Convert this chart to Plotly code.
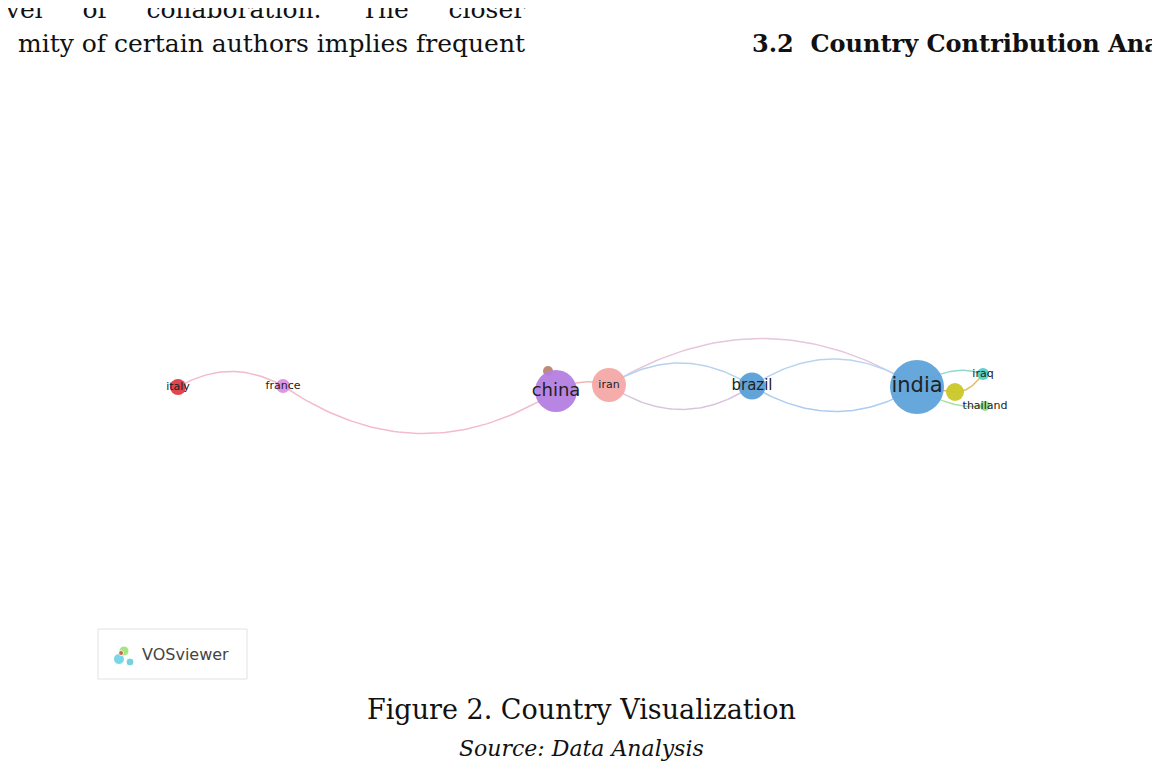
import numpy as np
import plotly.graph_objects as go

# Node data (layout positions)
labels = ["italy", "france", "", "china", "iran", "brazil", "india", "iraq", "", "thailand"]
node_x = [178, 283, 548, 556, 609, 752, 917, 983, 955, 985]
node_y = [386, 385, 370, 390, 384, 385, 386, 373, 391, 405]
node_size = [16, 14, 10, 42, 34, 27, 54, 12, 18, 10]
node_color = ["#df3b45", "#dc8fe0", "#b98570", "#b47fe0", "#f4a9a6", "#5a9fd8",
              "#5ea3da", "#52cfc6", "#c9c826", "#92dc8c"]
label_size = [11, 11, 10, 18, 11, 15, 21, 11, 10, 11]

# Edges: (source index, target index, bend in px, colour)
edge_src = [0, 1, 4, 4, 4, 5, 5, 3, 6, 6, 6, 8]
edge_tgt = [1, 3, 6, 5, 5, 6, 6, 4, 7, 9, 8, 7]
edge_bend = [-30, 90, -95, -45, 48, -55, 50, -12, -18, 14, 0, 10]
edge_color = ["#f3b9c8", "#f3bccb", "#e6c6dc", "#b7d2ee", "#d9c4dd", "#b7d5f2",
              "#aacdf0", "#f1b7b7", "#8fd9cc", "#a5e0a5", "#e8b070", "#e0c070"]

fig = go.Figure()
for s, t, b, c in zip(edge_src, edge_tgt, edge_bend, edge_color):
    x0, y0, x1, y1 = node_x[s], node_y[s], node_x[t], node_y[t]
    mx, my = (x0 + x1) / 2, (y0 + y1) / 2 + b
    tt = np.linspace(0, 1, 60)
    bx = (1 - tt) ** 2 * x0 + 2 * (1 - tt) * tt * mx + tt ** 2 * x1
    by = (1 - tt) ** 2 * y0 + 2 * (1 - tt) * tt * my + tt ** 2 * y1
    fig.add_trace(go.Scatter(x=bx, y=by, mode="lines", line=dict(color=c, width=1.5),
                             hoverinfo="skip", showlegend=False))

fig.add_trace(go.Scatter(x=node_x, y=node_y, mode="markers", showlegend=False,
                         marker=dict(size=node_size, color=node_color, opacity=0.95,
                                     line=dict(width=0))))
fig.add_trace(go.Scatter(x=node_x, y=node_y, mode="text", text=labels, showlegend=False,
                         textfont=dict(family="DejaVu Sans", size=label_size, color="#222")))

serif = "DejaVu Serif"
gap = "&nbsp;" * 5
ann = [
    dict(x=527, y=8, text=gap.join(["level", "of", "collaboration.", "The", "closer"]),
         xanchor="right", size=25),
    dict(x=527, y=42, text="mity of certain authors implies frequent", xanchor="right", size=25),
    dict(x=750, y=42, text="<b>3.2  Country Contribution Analysis</b>", xanchor="left", size=24),
    dict(x=581, y=708, text="Figure 2. Country Visualization", xanchor="center", size=27),
    dict(x=581, y=747, text="<i>Source: Data Analysis</i>", xanchor="center", size=22),
]
annotations = [dict(x=a["x"], y=a["y"], xref="x", yref="y", text=a["text"], showarrow=False,
                    xanchor=a["xanchor"], yanchor="middle",
                    font=dict(family=serif, size=a["size"], color="#111")) for a in ann]
annotations.append(dict(x=140, y=653, xref="x", yref="y", text="VOSviewer", showarrow=False,
                        font=dict(family="DejaVu Sans", size=16, color="#444"), xanchor="left"))

shapes = [dict(type="rect", x0=98, y0=628, x1=247, y1=678, xref="x", yref="y",
               line=dict(color="#e2e2e2", width=1), fillcolor="white", layer="below")]

fig.add_trace(go.Scatter(x=[119, 124, 130, 121], y=[658, 650, 661, 652], mode="markers",
                         marker=dict(size=[11, 10, 8, 5], color=["#3fc6e0", "#7fdc50", "#40c0d0", "#e03020"]),
                         showlegend=False, hoverinfo="skip"))

fig.update_layout(width=1160, height=777, margin=dict(l=0, r=0, t=0, b=0),
                  paper_bgcolor="white", plot_bgcolor="white",
                  xaxis=dict(range=[8, 1168], visible=False),
                  yaxis=dict(range=[784, 7], visible=False),
                  annotations=annotations, shapes=shapes)
fig.write_html("out.html")
